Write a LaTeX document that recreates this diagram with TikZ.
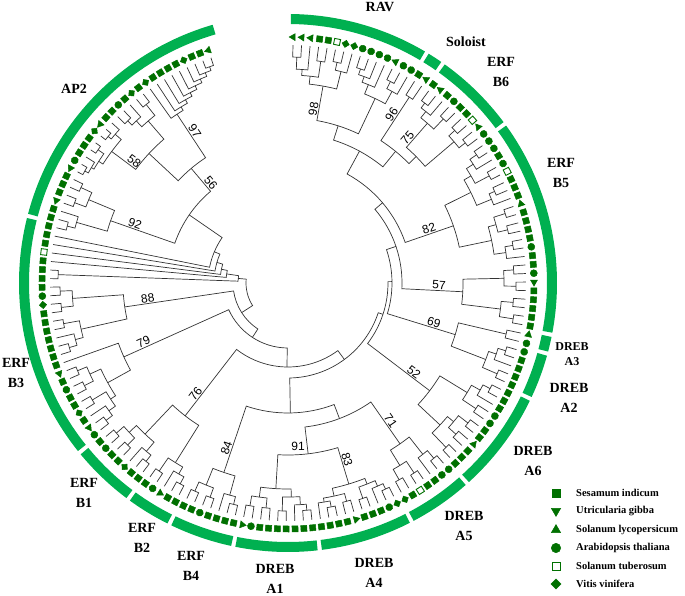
\documentclass[tikz,border=0pt]{standalone}
\usepackage{fontspec}
\setmainfont{Liberation Serif}
\newfontfamily\bootfont{Liberation Sans}
\usetikzlibrary{shapes.geometric}

\definecolor{ringgreen}{RGB}{0,176,80}
\definecolor{symgreen}{RGB}{0,112,0}

\tikzset{
  branch/.style={draw=black!80, line width=0.7pt},
  ring/.style={draw=ringgreen, line width=10pt},
  clade/.style={font=\bfseries\fontsize{14}{20}\selectfont, align=center, inner sep=0pt},
  boot/.style={font=\bootfont\fontsize{12}{12}\selectfont, inner sep=1pt},
  legend/.style={font=\bfseries\fontsize{10.5}{12}\selectfont, anchor=west, inner sep=0pt},
  sym/.style={draw=symgreen, fill=symgreen, inner sep=0pt, line width=0.5pt},
  symS/.style={sym, rectangle, minimum size=6pt},
  symU/.style={sym, regular polygon, regular polygon sides=3, shape border rotate=180, minimum size=8pt},
  symT/.style={sym, regular polygon, regular polygon sides=3, minimum size=8pt},
  symA/.style={sym, circle, minimum size=7pt},
  symO/.style={sym, rectangle, fill=white, line width=0.9pt, minimum size=6pt},
  symV/.style={sym, diamond, minimum size=7.5pt},
}

% species symbols: #1 rotation, #2 position, #3 extra options
\expandafter\def\csname tsym@s\endcsname#1#2#3{\node[symS, rotate=#1, #3] at (#2) {};}
\expandafter\def\csname tsym@u\endcsname#1#2#3{\node[symU, rotate=#1, #3] at (#2) {};}
\expandafter\def\csname tsym@t\endcsname#1#2#3{\node[symT, rotate=#1, #3] at (#2) {};}
\expandafter\def\csname tsym@a\endcsname#1#2#3{\node[symA, rotate=#1, #3] at (#2) {};}
\expandafter\def\csname tsym@o\endcsname#1#2#3{\node[symO, rotate=#1, #3] at (#2) {};}
\expandafter\def\csname tsym@v\endcsname#1#2#3{\node[symV, rotate=#1, #3] at (#2) {};}

% polar tree: leaves pushed on a stack, numbers join the top two
\newcount\leafno
\newcount\treesp
\def\tstart{88.8}
\def\tstep{2.06}
\def\tiprad{238}
\def\symrad{246}

\def\treepush#1#2{%
  \global\advance\treesp by 1
  \expandafter\xdef\csname stA\the\treesp\endcsname{#1}%
  \expandafter\xdef\csname stR\the\treesp\endcsname{#2}}

\def\treeleaf#1{%
  \pgfmathsetmacro\la{\tstart-\the\leafno*\tstep}%
  \csname tsym@#1\endcsname{\la}{\la:\symrad}{}%
  \treepush{\la}{\tiprad}%
  \global\advance\leafno by 1 }

\def\treejoin#1{%
  \edef\aB{\csname stA\the\treesp\endcsname}%
  \edef\rB{\csname stR\the\treesp\endcsname}%
  \global\advance\treesp by -1
  \edef\aA{\csname stA\the\treesp\endcsname}%
  \edef\rA{\csname stR\the\treesp\endcsname}%
  \global\advance\treesp by -1
  \draw[branch] (\aA:\rA) -- (\aA:#1) arc[start angle=\aA, end angle=\aB, radius=#1pt] -- (\aB:\rB);
  \pgfmathsetmacro\aM{0.5*(\aA)+0.5*(\aB)}%
  \treepush{\aM}{#1}}

\def\treeboot#1{%
  \edef\aT{\csname stA\the\treesp\endcsname}%
  \edef\rT{\csname stR\the\treesp\endcsname}%
  \pgfmathsetmacro\brot{ifthenelse(\aT<-90,\aT+180,\aT)}%
  \pgfmathsetmacro\brad{\rT-24}%
  \node[boot, rotate=\brot, anchor=south] at (\aT:\brad) {#1};}

\begin{document}
\begin{tikzpicture}[x=1pt, y=1pt]
  \useasboundingbox (0,0) rectangle (685,-596);

  \begin{scope}[shift={(288,-283)}]
    % clade ring
    \foreach \i/\j in {0/14,15/16,17/25,26/48,49/50,51/55,56/66,67/73,74/83,84/92,93/99,100/104,105/111,112/137,138/166}{
      \pgfmathsetmacro\ringa{\tstart-\i*\tstep+\tstep/2-0.45}
      \pgfmathsetmacro\ringb{\tstart-\j*\tstep-\tstep/2+0.45}
      \draw[ring] (\ringa:264) arc[start angle=\ringa, end angle=\ringb, radius=264pt];
    }

    % tree, clockwise from RAV
    \foreach \tok in {%
      t,t,226,t,214,s,s,224,208,o,v,226,v,218,200,-98,%
      a,a,226,a,220,a,214,t,a,226,a,218,204,165,%
      s,t,222,-96,%
      s,t,226,s,220,a,s,226,212,-75,s,o,226,t,a,226,218,180,170,150,%
      a,a,228,s,220,a,o,228,212,s,s,226,s,220,204,%
      t,s,228,s,s,226,216,s,a,228,s,220,208,175,-82,124,%
      s,a,226,u,s,228,216,s,s,226,s,s,228,214,175,-57,114,%
      t,a,224,a,s,228,s,220,s,s,228,212,175,-69,104,%
      s,s,228,s,220,a,a,226,210,s,s,228,t,s,226,216,s,s,228,208,178,-52,100,%
      a,a,228,s,218,s,o,228,s,v,226,214,196,-71,%
      v,a,228,s,222,s,s,228,216,t,s,226,s,s,228,s,222,218,210,-83,%
      s,s,228,s,222,s,s,228,214,s,s,226,a,t,226,216,206,172,145,%
      s,s,228,s,220,s,a,228,s,s,228,218,200,-84,130,95,%
      s,s,228,t,220,a,s,228,212,%
      s,s,228,v,220,s,s,228,a,s,228,218,208,168,-76,84,%
      a,t,228,s,220,v,s,228,212,s,a,228,s,t,228,218,206,s,180,-79,65,%
      s,s,228,s,220,s,s,228,212,s,v,228,a,s,228,216,165,-88,55,%
      s,s,230,s,o,s,s,%
      s,s,228,s,220,t,s,228,s,s,228,216,188,-92,%
      t,a,232,s,228,s,s,232,225,v,t,232,s,228,220,-58,s,a,228,s,222,v,s,228,214,190,%
      v,s,s,s,s,v,s,s,t,230,226,222,218,214,210,206,202,-97,150,-56,120,%
      80,74,68,62,50,42}{%
      \ifcsname tsym@\tok\endcsname\treeleaf{\tok}%
      \else\ifnum\tok<0 \treeboot{\number-\tok}\else\treejoin{\tok}\fi\fi}

    \node[boot] (b91) at (10,-163) {91};
  \end{scope}

  % clade names
  \node[clade] (rav) at (380,-7) {RAV};
  \node[clade] (soloist) at (466,-42) {Soloist};
  \node[clade] (erfb6) at (501,-72) {ERF\\B6};
  \node[clade] (erfb5) at (561,-173) {ERF\\B5};
  \node[clade, font=\bfseries\fontsize{12}{15}\selectfont] (dreba3) at (572,-354) {DREB\\A3};
  \node[clade] (dreba2) at (569,-398) {DREB\\A2};
  \node[clade] (dreba6) at (533,-461) {DREB\\A6};
  \node[clade] (dreba5) at (464,-526) {DREB\\A5};
  \node[clade] (dreba4) at (374,-573) {DREB\\A4};
  \node[clade] (dreba1) at (275,-579) {DREB\\A1};
  \node[clade] (erfb4) at (191,-566) {ERF\\B4};
  \node[clade] (erfb2) at (142,-538) {ERF\\B2};
  \node[clade] (erfb1) at (84,-493) {ERF\\B1};
  \node[clade] (erfb3) at (16,-373) {ERF\\B3};
  \node[clade] (ap2) at (74,-89) {AP2};

  % legend
  \foreach \k/\spname/\y in {s/Sesamum indicum/493,%
      u/Utricularia gibba/511,%
      t/Solanum lycopersicum/530,%
      a/Arabidopsis thaliana/548,%
      o/Solanum tuberosum/566,%
      v/Vitis vinifera/584}{
    \csname tsym@\k\endcsname{0}{556,-\y}{scale=1.35}
    \node[legend] (leg\k) at (576,-\y) {\spname};
  }
\end{tikzpicture}
\end{document}
